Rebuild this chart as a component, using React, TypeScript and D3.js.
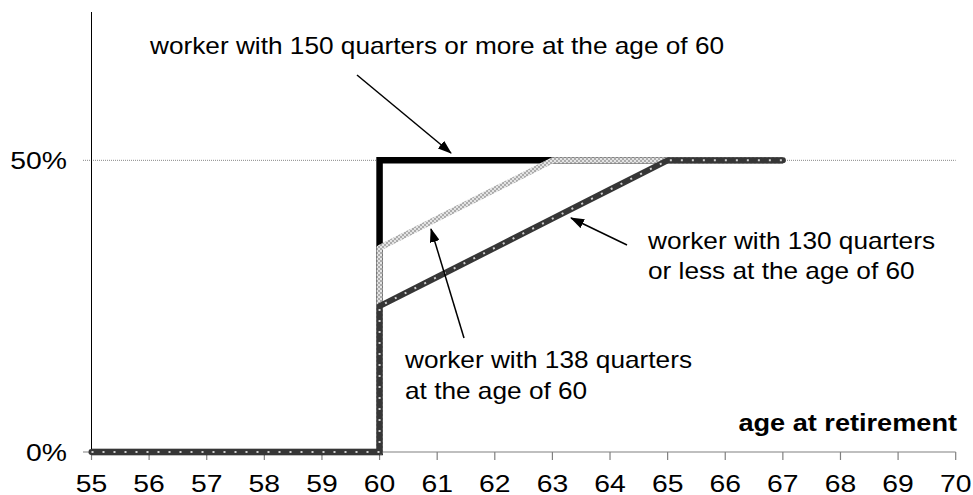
import React from "react";
import * as d3 from "d3";

const ages = [55, 56, 57, 58, 59, 60, 60, 61, 62, 63, 64, 65, 66, 67];
const series150 = [0, 0, 0, 0, 0, 0, 0.5, 0.5, 0.5, 0.5, 0.5, 0.5, 0.5, 0.5];
const series138 = [0, 0, 0, 0, 0, 0, 0.35, 0.4, 0.45, 0.5, 0.5, 0.5, 0.5, 0.5];
const series130 = [0, 0, 0, 0, 0, 0, 0.25, 0.3, 0.35, 0.4, 0.45, 0.5, 0.5, 0.5];
const xTicks = d3.range(55, 71);
const yTicks = [0, 0.5];
const labelTop = "worker with 150 quarters or more at the age of 60";
const label130 = ["worker with 130 quarters", "or less at the age of 60"];
const label138 = ["worker with 138 quarters", "at the age of 60"];
const axisTitle = "age at retirement";

const W = 973;
const H = 495;
const FONT = "Arial, 'Liberation Sans', Helvetica, sans-serif";

function SText(props: {
  x: number;
  y: number;
  size: number;
  sx: number;
  anchor?: string;
  bold?: boolean;
  children: React.ReactNode;
}) {
  const { x, y, size, sx, anchor = "start", bold, children } = props;
  return (
    <text
      transform={`translate(${x},${y}) scale(${sx},1)`}
      fontSize={size}
      textAnchor={anchor}
      fontWeight={bold ? "bold" : "normal"}
      fill="#000"
    >
      {children}
    </text>
  );
}

export default function App() {
  const x = d3.scaleLinear().domain([55, 70]).range([91.5, 955.7]);
  const y = d3.scaleLinear().domain([0, 0.75]).range([452, 14.5]);
  const mk = (vals: number[]) =>
    d3
      .line<number>()
      .x((_, i) => x(ages[i]))
      .y((v) => y(v))(vals) as string;

  const afs = 23;
  const asx = 1.14;
  const tfs = 24;
  const tsx = 1.18;
  return (
    <svg
      width={W}
      height={H}
      style={{ position: "absolute", left: 0, top: 0, background: "#fff" }}
      fontFamily={FONT}
    >
      <defs>
        <pattern id="checker" width="4" height="4" patternUnits="userSpaceOnUse">
          <rect width="4" height="4" fill="#e4e4e4" />
          <rect width="2" height="2" fill="#ababab" />
          <rect x="2" y="2" width="2" height="2" fill="#ababab" />
        </pattern>
        <marker
          id="arrow"
          viewBox="0 0 14 10"
          refX="13"
          refY="5"
          markerWidth="14"
          markerHeight="10"
          markerUnits="userSpaceOnUse"
          orient="auto"
        >
          <path d="M0,0 L14,5 L0,10 z" fill="#000" />
        </marker>
      </defs>
      <rect width={W} height={H} fill="#fff" />

      {/* 50% gridline */}
      <line
        x1={83}
        x2={x(70)}
        y1={y(0.5)}
        y2={y(0.5)}
        stroke="#888"
        strokeWidth={1}
        strokeDasharray="1 1"
      />
      {/* y axis */}
      <line x1={x(55)} x2={x(55)} y1={12} y2={y(0)} stroke="#000" strokeWidth={1} />
      {/* x axis */}
      <line x1={83} x2={x(70)} y1={y(0)} y2={y(0)} stroke="#808080" strokeWidth={1.2} />
      {xTicks.map((t) => (
        <g key={t}>
          <line x1={x(t)} x2={x(t)} y1={y(0)} y2={y(0) + 8} stroke="#808080" strokeWidth={1.2} />
          <SText x={x(t)} y={492} size={tfs} sx={tsx} anchor="middle">
            {t}
          </SText>
        </g>
      ))}
      {yTicks.map((t) => (
        <SText key={t} x={67} y={y(t) + 9} size={tfs} sx={tsx} anchor="end">
          {d3.format(".0%")(t)}
        </SText>
      ))}

      {/* series */}
      <path d={mk(series150)} fill="none" stroke="#000" strokeWidth={6.5} strokeLinejoin="miter" />
      <path
        d={mk(series138)}
        fill="none"
        stroke="url(#checker)"
        strokeWidth={6}
        strokeLinejoin="round"
        strokeLinecap="round"
      />
      <path
        d={mk(series130)}
        fill="none"
        stroke="#363636"
        strokeWidth={6}
        strokeLinejoin="round"
        strokeLinecap="round"
      />
      <path
        d={mk(series130)}
        fill="none"
        stroke="#cfcfcf"
        strokeWidth={2}
        strokeDasharray="2 9"
      />

      {/* annotations */}
      <SText x={150} y={54} size={afs} sx={asx}>
        {labelTop}
      </SText>
      <line x1={357} y1={75} x2={451} y2={153} stroke="#000" strokeWidth={1.5} markerEnd="url(#arrow)" />

      {label130.map((s, i) => (
        <SText key={s} x={648} y={249 + i * 30} size={afs} sx={asx}>
          {s}
        </SText>
      ))}
      <line x1={627} y1={245} x2={571} y2={218} stroke="#000" strokeWidth={1.5} markerEnd="url(#arrow)" />

      {label138.map((s, i) => (
        <SText key={s} x={405} y={368 + i * 31} size={afs} sx={asx}>
          {s}
        </SText>
      ))}
      <line x1={464} y1={338} x2={431} y2={229} stroke="#000" strokeWidth={1.5} markerEnd="url(#arrow)" />

      <SText x={957} y={431} size={afs} sx={1.18} anchor="end" bold>
        {axisTitle}
      </SText>
    </svg>
  );
}
